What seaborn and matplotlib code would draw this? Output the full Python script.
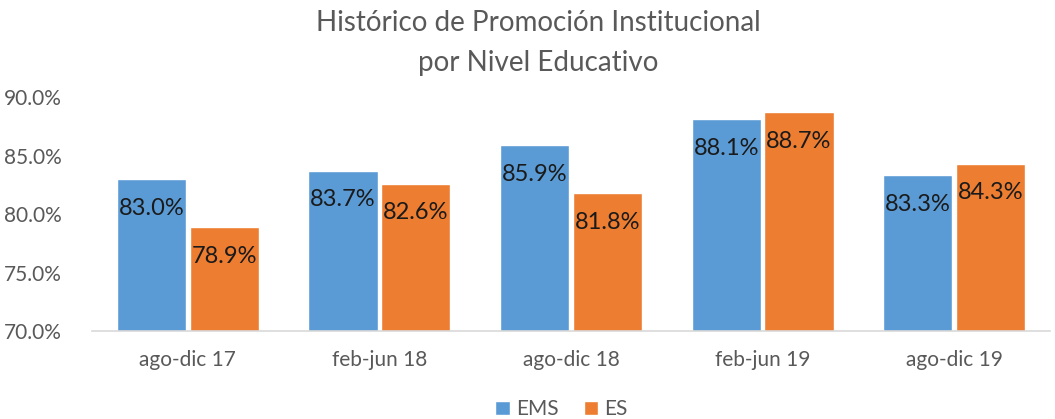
import pandas as pd
import matplotlib.pyplot as plt
import seaborn as sns

periodos = ['ago-dic 17', 'feb-jun 18', 'ago-dic 18', 'feb-jun 19', 'ago-dic 19']
ems = [83.0, 83.7, 85.9, 88.1, 83.3]
es = [78.9, 82.6, 81.8, 88.7, 84.3]
niveles = ['EMS', 'ES']
colores = ['#5B9BD5', '#ED7D31']
y_ticks = [70, 75, 80, 85, 90]

df = pd.DataFrame({
    'Periodo': periodos * 2,
    'Nivel': ['EMS'] * len(periodos) + ['ES'] * len(periodos),
    'Valor': ems + es,
})

sns.set_style('white')
plt.rcParams['font.family'] = ['Lato', 'DejaVu Sans']
gris = '#595959'

fig = plt.figure(figsize=(10.55, 4.19), dpi=100)
ax = fig.add_axes([0.0872, 0.21, 0.908, 0.5585])

sns.barplot(data=df, x='Periodo', y='Valor', hue='Nivel', hue_order=niveles,
            palette=colores, saturation=1, width=0.76, gap=0.05,
            edgecolor='white', linewidth=1, ax=ax)

ax.set_ylim(70, 90)
ax.set_yticks(y_ticks)
ax.set_yticklabels([f'{v:.1f}%' for v in y_ticks], fontsize=15, color=gris)
ax.tick_params(axis='x', labelsize=15, labelcolor=gris, length=0, pad=14)
ax.tick_params(axis='y', length=0, pad=22)
ax.set_xlabel('')
ax.set_ylabel('')
for s in ['top', 'right', 'left']:
    ax.spines[s].set_visible(False)
ax.spines['bottom'].set_color('#D9D9D9')
ax.spines['bottom'].set_linewidth(1.2)

# etiquetas dentro de la barra, cerca del borde superior
for cont in ax.containers:
    for bar in cont:
        h = bar.get_height()
        ax.annotate(f'{h:.1f}%', (bar.get_x() + bar.get_width() / 2, h),
                    xytext=(0, -21), textcoords='offset points',
                    ha='center', va='center', fontsize=17, color='#1a1a1a')

ax.legend(loc='center', bbox_to_anchor=(0.49, -0.335), ncol=2,
          frameon=False, fontsize=15, labelcolor=gris, handlelength=0.7,
          handleheight=0.7, handletextpad=0.3, columnspacing=1.2,
          borderpad=0)

fig.text(0.51, 0.945, 'Histórico de Promoción Institucional', ha='center',
         va='center', fontsize=20, color=gris)
fig.text(0.51, 0.85, 'por Nivel Educativo', ha='center', va='center',
         fontsize=20, color=gris)

fig.savefig('out.png', dpi=100)
